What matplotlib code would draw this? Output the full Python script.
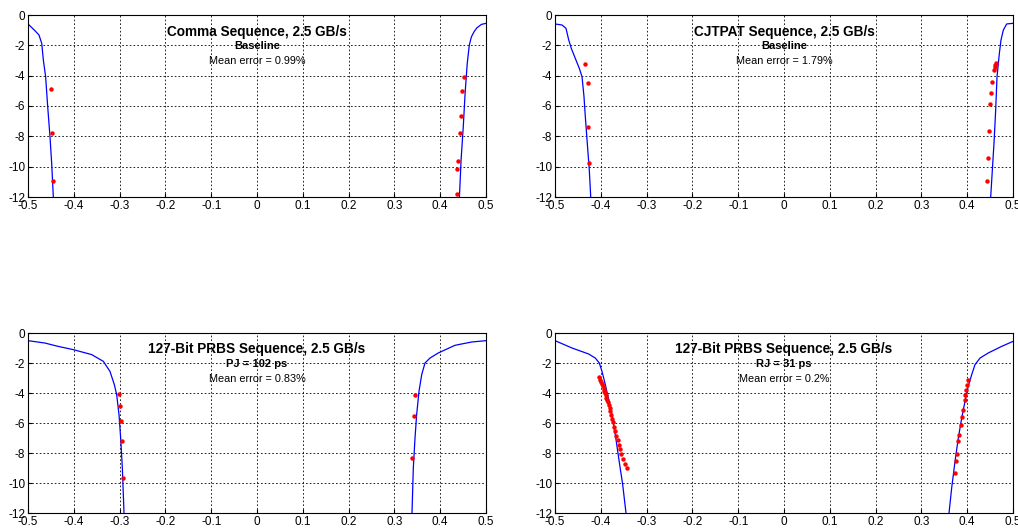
import matplotlib
matplotlib.use("Agg")
import matplotlib.pyplot as plt

plt.rcParams['font.family'] = ['Liberation Sans', 'DejaVu Sans']

# Comma sequence, baseline
comma_left_x = [-0.5, -0.485, -0.476, -0.470, -0.4665, -0.4615, -0.457, -0.452, -0.4483, -0.4447]
comma_left_y = [-0.59, -1.03, -1.32, -1.87, -2.97, -4.07, -6.04, -8.02, -9.78, -12.0]
comma_right_x = [0.5, 0.49, 0.48, 0.474, 0.468, 0.4635, 0.459, 0.4545, 0.4505, 0.4455, 0.442]
comma_right_y = [-0.55, -0.62, -0.85, -1.1, -1.45, -2.0, -3.2, -5.1, -7.3, -9.6, -12.0]
comma_dots_x = [-0.4498, -0.447, -0.4455, 0.4513, 0.4469, 0.4447, 0.4425, 0.4396, 0.4374, 0.436]
comma_dots_y = [-4.88, -7.80, -10.92, -4.11, -5.01, -6.64, -7.80, -9.60, -10.13, -11.82]

# CJTPAT sequence, baseline
cjt_left_x = [-0.5, -0.4847, -0.476, -0.470, -0.4644, -0.4557, -0.4469, -0.441, -0.4367, -0.4338, -0.4295, -0.4251, -0.422]
cjt_left_y = [-0.59, -0.66, -0.88, -1.65, -2.20, -2.86, -3.52, -4.07, -5.38, -6.70, -8.46, -10.22, -12.0]
cjt_right_x = [0.5, 0.4862, 0.4789, 0.4738, 0.4702, 0.4651, 0.4622, 0.4585, 0.4549, 0.4513]
cjt_right_y = [-0.55, -0.59, -0.99, -1.65, -2.53, -4.07, -6.26, -8.46, -10.22, -12.0]
cjt_dots_x = [-0.4338, -0.4286, -0.428, -0.4251,
              0.4636, 0.4615, 0.4600, 0.4585, 0.4541, 0.4520, 0.4505, 0.4469, 0.4447, 0.4432]
cjt_dots_y = [-3.25, -4.49, -7.36, -9.78,
              -3.19, -3.30, -3.45, -3.60, -4.40, -5.14, -5.87, -7.63, -9.41, -10.92]

# PRBS, PJ = 102 ps
pj_left_x = [-0.5, -0.4629, -0.4345, -0.401, -0.361, -0.3355, -0.321, -0.3115, -0.3064, -0.3013, -0.2977, -0.294, -0.2904]
pj_left_y = [-0.51, -0.67, -0.89, -1.11, -1.44, -1.89, -2.56, -3.44, -4.11, -5.44, -7.0, -9.0, -12.0]
pj_right_x = [0.5, 0.4688, 0.4323, 0.3959, 0.3777, 0.3668, 0.3596, 0.3537, 0.3486, 0.345, 0.3413, 0.3384]
pj_right_y = [-0.51, -0.60, -0.82, -1.33, -1.67, -2.0, -2.78, -3.89, -5.44, -7.0, -9.0, -12.0]
pj_dots_x = [-0.3006, -0.2991, -0.2969, -0.294, -0.2918, 0.345, 0.3435, 0.3392]
pj_dots_y = [-4.07, -4.84, -5.89, -7.22, -9.65, -4.11, -5.51, -8.33]

# PRBS, RJ = 31 ps
rj_left_x = [-0.5, -0.4629, -0.4265, -0.412, -0.4033, -0.3974, -0.3901, -0.3828, -0.3755, -0.3683, -0.361, -0.3522, -0.345]
rj_left_y = [-0.51, -1.0, -1.4, -1.67, -2.0, -2.56, -3.44, -4.44, -5.44, -6.78, -8.33, -10.11, -12.0]
rj_right_x = [0.5, 0.4753, 0.4461, 0.428, 0.417, 0.4098, 0.4022, 0.3952, 0.388, 0.3806, 0.3734, 0.3661, 0.3603]
rj_right_y = [-0.56, -0.89, -1.33, -1.67, -2.11, -2.78, -3.56, -4.56, -5.67, -7.0, -8.56, -10.33, -12.0]
rj_dots_x = [-0.403, -0.401, -0.399, -0.398, -0.396, -0.394, -0.393, -0.391, -0.389, -0.388,
             -0.386, -0.385, -0.383, -0.381, -0.379, -0.377, -0.375, -0.373, -0.371, -0.368,
             -0.366, -0.363, -0.361, -0.358, -0.355, -0.351, -0.347, -0.343,
             0.4022, 0.4, 0.3974, 0.396, 0.3945, 0.3901, 0.388, 0.3858, 0.3821, 0.38,
             0.3784, 0.3755, 0.3734]
rj_dots_y = [-2.95, -3.1, -3.25, -3.4, -3.55, -3.7, -3.85, -4.0, -4.15, -4.3,
             -4.45, -4.6, -4.8, -5.0, -5.2, -5.45, -5.7, -5.95, -6.25, -6.55,
             -6.85, -7.15, -7.45, -7.75, -8.05, -8.4, -8.7, -9.0,
             -3.11, -3.49, -3.78, -4.11, -4.44, -5.11, -5.62, -6.16, -6.78, -7.22,
             -8.07, -8.56, -9.33]

x_ticks = [-0.5, -0.4, -0.3, -0.2, -0.1, 0, 0.1, 0.2, 0.3, 0.4, 0.5]
x_tick_labels = ['-0.5', '-0.4', '-0.3', '-0.2', '-0.1', '0', '0.1', '0.2', '0.3', '0.4', '0.5']
y_ticks = [0, -2, -4, -6, -8, -10, -12]
y_tick_labels = ['0', '-2', '-4', '-6', '-8', '-10', '-12']


def draw_panel(fig, rect, lx, ly, rx, ry, dx, dy, title, sub, err):
    ax = fig.add_axes(rect)
    ax.plot(lx, ly, color='blue', lw=0.9)
    ax.plot(rx, ry, color='blue', lw=0.9)
    ax.plot(dx, dy, 'o', color='red', ms=3.2, mec='none')
    ax.set_xlim(-0.5, 0.5)
    ax.set_ylim(-12, 0)
    ax.set_xticks(x_ticks)
    ax.set_xticklabels(x_tick_labels)
    ax.set_yticks(y_ticks)
    ax.set_yticklabels(y_tick_labels)
    ax.tick_params(direction='in', length=3, labelsize=8.5, pad=2)
    ax.grid(True, color='black', linestyle=(0, (2, 2.5)), lw=0.6)
    for s in ax.spines.values():
        s.set_linewidth(0.8)
    ax.text(0, -1.1, title, ha='center', va='center', fontsize=9.8, fontweight='bold')
    ax.text(0, -2.05, sub, ha='center', va='center', fontsize=8, fontweight='bold')
    ax.text(0, -3.05, err, ha='center', va='center', fontsize=7.8)
    return ax


def main():
    fig = plt.figure(figsize=(10.18, 5.31), dpi=100)
    top_b, top_h = 1 - 197 / 531, 182 / 531
    bot_b, bot_h = 1 - 513 / 531, 180 / 531
    left_l, right_l, w = 28 / 1018, 555 / 1018, 458 / 1018

    draw_panel(fig, [left_l, top_b, w, top_h], comma_left_x, comma_left_y,
               comma_right_x, comma_right_y, comma_dots_x, comma_dots_y,
               'Comma Sequence, 2.5 GB/s', 'Baseline', 'Mean error = 0.99%')
    draw_panel(fig, [right_l, top_b, w, top_h], cjt_left_x, cjt_left_y,
               cjt_right_x, cjt_right_y, cjt_dots_x, cjt_dots_y,
               'CJTPAT Sequence, 2.5 GB/s', 'Baseline', 'Mean error = 1.79%')
    draw_panel(fig, [left_l, bot_b, w, bot_h], pj_left_x, pj_left_y,
               pj_right_x, pj_right_y, pj_dots_x, pj_dots_y,
               '127-Bit PRBS Sequence, 2.5 GB/s', 'PJ = 102 ps', 'Mean error = 0.83%')
    draw_panel(fig, [right_l, bot_b, w, bot_h], rj_left_x, rj_left_y,
               rj_right_x, rj_right_y, rj_dots_x, rj_dots_y,
               '127-Bit PRBS Sequence, 2.5 GB/s', 'RJ = 31 ps', 'Mean error = 0.2%')

    fig.savefig('out.png', dpi=100, facecolor='white')


if __name__ == "__main__":
    main()
